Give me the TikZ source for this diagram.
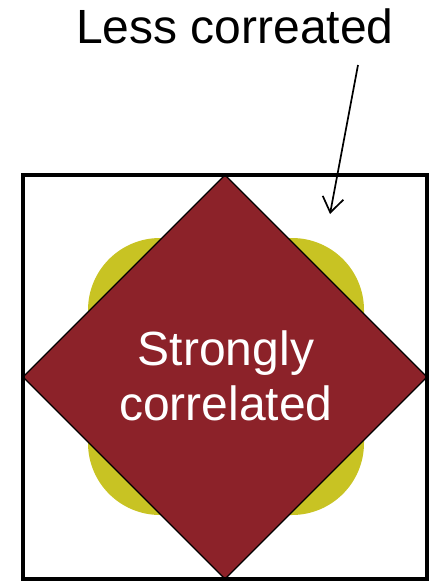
\documentclass[tikz,border=0pt]{standalone}
\usepackage{fontspec}
\setmainfont{Liberation Sans}
\usetikzlibrary{arrows.meta}
\definecolor{dred}{HTML}{8C2229}
\definecolor{olive}{HTML}{C8C323}
\tikzset{
  frame/.style={draw=black,line width=3.6pt},
  diamondshape/.style={fill=dred,draw=black,line width=1.2pt},
  blob/.style={fill=olive,rounded corners=72pt},
  bigtext/.style={font=\fontsize{48}{55}\selectfont,inner sep=0pt},
  pointer/.style={draw=black,line width=1.7pt,-{Straight Barb[length=15pt,width=21pt,line width=1.7pt]}}
}
\begin{document}
\begin{tikzpicture}[x=1pt,y=-1pt]
\useasboundingbox (0,0) rectangle (429,581);
% yellow rounded square behind the diamond
\fill[blob] (88,238) rectangle (364,515);
% diamond
\coordinate (dt) at (225,175);
\coordinate (dr) at (427,377);
\coordinate (db) at (225,579);
\coordinate (dl) at (23,377);
\path[diamondshape] (dt) -- (dr) -- (db) -- (dl) -- cycle;
% frame
\draw[frame] (23,175) rectangle (427,579);
% texts
\node[bigtext,text=white,align=center,anchor=base] (strong) at (226,420) {Strongly\\correlated};
\node[bigtext,anchor=base west] (less) at (76,43) {Less correated};
% arrow
\coordinate (astart) at (358,65);
\coordinate (atip) at (330,214);
\draw[pointer] (astart) -- (atip);
\end{tikzpicture}
\end{document}
